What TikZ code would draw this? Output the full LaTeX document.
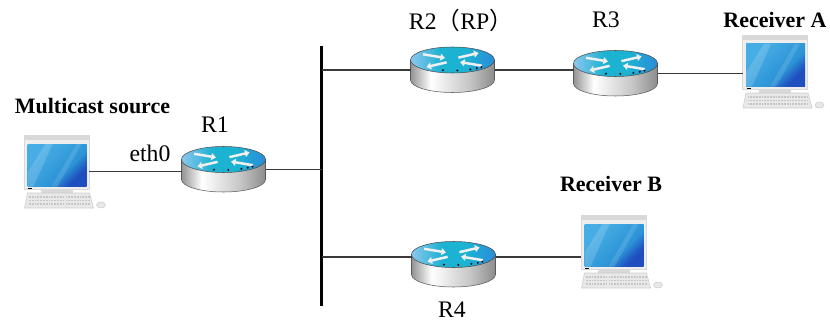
\documentclass[tikz,border=0pt]{standalone}
\usepackage{fontspec}
\setmainfont{LiberationSerif-Regular.ttf}[BoldFont=LiberationSerif-Bold.ttf]
\newfontfamily\cjkfont{Noto Sans CJK SC}
\usetikzlibrary{arrows.meta}

\definecolor{rtlight}{HTML}{8CC6EE}
\definecolor{rtcyan}{HTML}{1CB2D2}
\definecolor{rtblue}{HTML}{2A8CDA}
\definecolor{scrlight}{HTML}{46AEE4}
\definecolor{scrblue}{HTML}{2C93D6}
\definecolor{scrdark}{HTML}{1F4FBF}
\definecolor{pcframe}{HTML}{EEEEEE}
\definecolor{pchead}{HTML}{D8D8D8}
\definecolor{linkgray}{HTML}{3A3A3A}

% Side of the router cylinder and its lid.
\pgfdeclarehorizontalshading{routerside}{100bp}{%
  color(0bp)=(gray!85); color(25bp)=(gray!85); color(37bp)=(white);
  color(60bp)=(gray!45); color(75bp)=(gray!90); color(100bp)=(gray!90)}
\pgfdeclarehorizontalshading{routertop}{100bp}{%
  color(0bp)=(rtlight); color(25bp)=(rtlight); color(43bp)=(rtcyan);
  color(58bp)=(rtcyan); color(75bp)=(rtblue); color(100bp)=(rtblue)}
% Monitor glass, dark towards the lower right corner.
\pgfdeclareverticalshading{pcscreen}{100bp}{%
  color(0bp)=(scrdark); color(28bp)=(scrdark); color(40bp)=(scrblue);
  color(72bp)=(scrlight); color(100bp)=(scrlight)}

\begin{document}
\begin{tikzpicture}[font=\rmfamily\small]

\tikzset{
  routerbox/.style={
    rectangle, minimum width=1.68cm, minimum height=0.9cm,
    inner sep=0pt, outer sep=0pt
  },
  hostbox/.style={
    rectangle, minimum width=1.30cm, minimum height=1.46cm,
    inner sep=0pt, outer sep=0pt
  },
  rtarrow/.style={
    draw=white!88!gray, line width=1.4pt, -{Triangle[length=2.6pt,width=4pt]}
  },
  keyboard/.style={fill=gray!18, draw=gray!40, line width=0.3pt},
  keyrow/.style={draw=gray!45, line width=0.6pt, dash pattern=on 1pt off 0.6pt},
  link/.style={draw=linkgray, line width=0.9pt},
  busline/.style={draw=black, line width=1.7pt},
  hostlabel/.style={font=\rmfamily\fontsize{12.5}{14}\selectfont\bfseries, inner sep=0pt},
  rlabel/.style={font=\rmfamily\fontsize{13.5}{15}\selectfont, inner sep=0pt}
}

% Router: a flat cylinder with the four arrows on its lid.
\newcommand{\netRouter}[2]{%
  \node[routerbox] (#1) at (#2) {};
  \begin{scope}[shift={(#1.center)}]
    \shadedraw[shading=routerside, draw=gray!70!black, line width=0.3pt]
      (-0.84,0.2) -- (-0.84,-0.2)
      arc[start angle=180, end angle=360, x radius=0.84, y radius=0.25]
      -- (0.84,0.2) -- cycle;
    \shadedraw[shading=routertop, draw=gray!60!black, line width=0.3pt]
      (0,0.2) ellipse [x radius=0.84, y radius=0.26];
    \begin{scope}[shift={(0,0.2)}, xscale=0.84, yscale=0.26]
      \draw[rtarrow] (-0.70,0.44) -- (-0.18,0.16);
      \draw[rtarrow] (0.70,-0.44) -- (0.18,-0.16);
      \draw[rtarrow] (0.14,0.18) -- (0.62,0.54);
      \draw[rtarrow] (-0.14,-0.18) -- (-0.62,-0.54);
    \end{scope}
    \foreach \a in {256,277,297,308,317}
      \fill[black] (0,0.2) ++(\a:0.79 and 0.21) circle[radius=0.022];
  \end{scope}%
}

% Host: monitor, keyboard and mouse.
\newcommand{\netHost}[2]{%
  \node[hostbox] (#1) at (#2) {};
  \begin{scope}[shift={(#1.center)}]
    \filldraw[fill=pcframe, draw=gray!30, line width=0.3pt]
      (-0.65,-0.36) rectangle (0.65,0.73);
    \fill[pchead] (-0.65,0.64) rectangle (0.65,0.73);
    \shade[shading=pcscreen, shading angle=45] (-0.58,-0.30) rectangle (0.60,0.55);
    \fill[white, opacity=0.16]
      (-0.58,-0.02) -- (-0.22,0.55) -- (-0.08,0.55) -- (-0.46,-0.30)
      -- (-0.58,-0.30) -- cycle;
    \fill[white, opacity=0.12]
      (-0.10,-0.30) -- (0.40,0.55) -- (0.50,0.55) -- (0.02,-0.30) -- cycle;
    \fill[black] (-0.57,-0.35) rectangle (-0.49,-0.32);
    \fill[gray!30] (-0.32,-0.42) rectangle (0.32,-0.36);
    \filldraw[keyboard] (-0.58,-0.43) -- (0.66,-0.43) -- (0.74,-0.73)
      -- (-0.64,-0.73) -- cycle;
    \foreach \y in {-0.51,-0.58,-0.65}
      \draw[keyrow] (-0.55,\y) -- (0.66,\y);
    \filldraw[keyboard] (0.89,-0.67) ellipse [x radius=0.09, y radius=0.06];
  \end{scope}%
}

\useasboundingbox (0,0) rectangle (16.6,6.46);

% Shared segment.
\coordinate (bustop) at (6.43,5.54);
\coordinate (busbot) at (6.43,0.35);
\draw[busline] (bustop) -- (busbot);

% Routers.
\netRouter{r1}{4.47,3.07}
\netRouter{r2}{9.05,5.06}
\netRouter{r3}{12.31,4.99}
\netRouter{r4}{9.07,1.17}

% Hosts.
\netHost{src}{1.13,3.03}
\netHost{rxa}{15.50,5.03}
\netHost{rxb}{12.27,1.43}

% Links.
\draw[link] (src.east) -- (src.east -| r1.west);
\draw[link] (r1.east) -- (r1.east -| bustop);
\draw[link] (r2.west) -- (r2.west -| bustop);
\draw[link] (r2.east) -- (r2.east -| r3.west);
\draw[link] (r3.east) -- (r3.east -| rxa.west);
\draw[link] ([yshift=0.15cm]r4.west) -- ([yshift=0.15cm]r4.west -| busbot);
\draw[link] ([yshift=0.15cm]r4.east) -- ([yshift=0.15cm]r4.east -| rxb.west);

% Labels.
\node[hostlabel] (srclabel) at (1.85,4.34) {Multicast source};
\node[rlabel]    (ethlabel) at (3.00,3.39) {eth0};
\node[rlabel]    (r1label)  at (4.30,3.96) {R1};
\node[rlabel]    (r2label)  at (9.22,6.06) {R2{\cjkfont（}RP{\cjkfont）}};
\node[rlabel]    (r3label)  at (12.12,6.06) {R3};
\node[rlabel]    (r4label)  at (9.04,0.27) {R4};
\node[hostlabel] (rxalabel) at (15.50,6.07) {Receiver A};
\node[hostlabel] (rxblabel) at (12.22,2.79) {Receiver B};

\end{tikzpicture}
\end{document}
